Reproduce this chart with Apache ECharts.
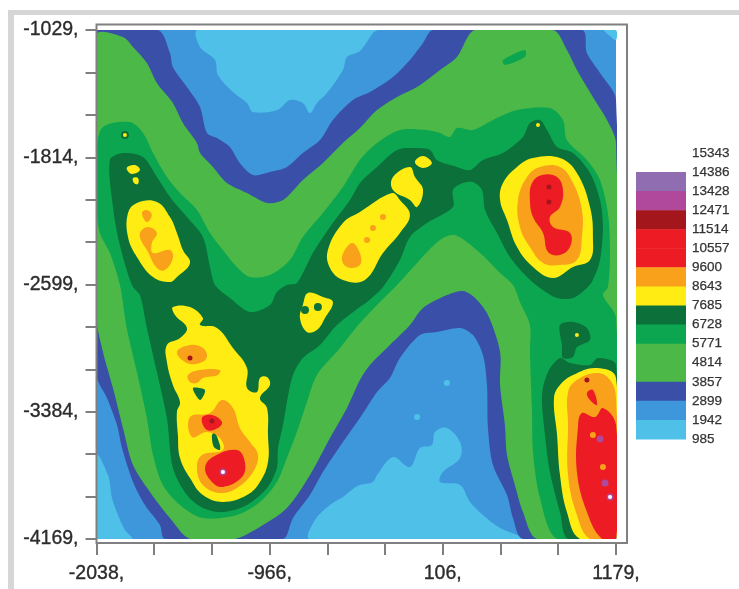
<!DOCTYPE html>
<html>
<head>
<meta charset="utf-8">
<style>
html,body{margin:0;padding:0;background:#fff}
#chart{width:739px;height:589px;filter:blur(0.7px)}
</style>
<script src="https://cdn.jsdelivr.net/npm/echarts@6/dist/echarts.min.js"></script>
</head>
<body>
<div id="chart"></div>
<script>
const xTickLabels = [-2038, -966, 106, 1179];
const yTickLabels = [-1029, -1814, -2599, -3384, -4169];
const xTicks = [-2038,-1681,-1323,-966,-608,-251,106,464,821,1179];
const yTicks = [-4169,-3907,-3646,-3384,-3122,-2861,-2599,-2337,-2076,-1814,-1552,-1291,-1029];
const legendLevels = [15343,14386,13428,12471,11514,10557,9600,8643,7685,6728,5771,4814,3857,2899,1942,985];
const bandColors = {985:'#4fc1e9',1942:'#3f97db',2899:'#3a4fa8',3857:'#4cb848',4814:'#4cb848',5771:'#0ca650',6728:'#0b7039',7685:'#ffec12',8643:'#f9a11b',9600:'#ed1c24',10557:'#ed1c24',11514:'#a3161c',12471:'#b0499c',13428:'#8f6db0',14386:'#ffffff'};

// contour rings, in survey coordinates [x, y]
const extent1942 = [[[-2038,-1029],[1179,-1029],[1179,-4169],[-2038,-4169]]];
const band985 = [
 [[-1410,-1029],[-1397,-1134],[-1304,-1214],[-1286,-1307],[-1193,-1412],[-1106,-1479],[-1069,-1535],[-920,-1523],[-840,-1461],[-760,-1479],[-716,-1541],[-673,-1479],[-611,-1418],[-512,-1276],[-487,-1196],[-407,-1159],[-326,-1048],[-301,-1029]],
 [[-716,-4169],[-685,-4052],[-592,-3959],[-512,-3910],[-450,-3861],[-407,-3836],[-326,-3817],[-301,-3774],[-202,-3663],[-97,-3725],[-35,-3608],[39,-3589],[58,-3509],[132,-3484],[213,-3571],[213,-3669],[107,-3756],[89,-3817],[213,-3836],[275,-3941],[355,-4021],[461,-4101],[566,-4144],[603,-4169]],
 [[-2038,-3651],[-1967,-3774],[-1942,-3916],[-1905,-4021],[-1862,-4114],[-1819,-4169],[-2038,-4169]],
 [[1105,-1029],[1179,-1029],[1179,-1091],[1142,-1066]]
];
const band2899 = [
 [[-2038,-1029],[-1657,-1029],[-1583,-1171],[-1565,-1257],[-1478,-1381],[-1397,-1504],[-1354,-1664],[-1292,-1695],[-1212,-1751],[-1150,-1850],[-1069,-1924],[-964,-1905],[-859,-1874],[-760,-1788],[-654,-1708],[-574,-1584],[-450,-1461],[-345,-1412],[-202,-1319],[-97,-1214],[-16,-1109],[46,-1029],[968,-1029],[999,-1171],[1080,-1294],[1179,-1461],[1179,-4169],[603,-4169],[541,-4040],[504,-3898],[417,-3713],[386,-3484],[380,-3219],[355,-3034],[293,-2911],[213,-2867],[70,-2892],[-35,-2911],[-159,-3053],[-221,-3176],[-301,-3262],[-407,-3423],[-512,-3571],[-636,-3756],[-716,-3898],[-821,-4040],[-859,-4144],[-883,-4169],[-1614,-4169],[-1645,-4083],[-1738,-3959],[-1812,-3817],[-1880,-3608],[-1911,-3466],[-1973,-3299],[-2038,-3157]]
];
const band3857 = [
 [[-2038,-1060],[-1874,-1072],[-1812,-1134],[-1726,-1233],[-1664,-1356],[-1565,-1479],[-1503,-1603],[-1416,-1726],[-1397,-1788],[-1317,-1874],[-1230,-1973],[-1106,-2035],[-982,-2096],[-883,-2078],[-760,-1954],[-636,-1850],[-512,-1726],[-407,-1634],[-301,-1523],[-177,-1442],[-53,-1381],[89,-1276],[194,-1196],[306,-1029],[789,-1029],[875,-1152],[937,-1276],[1036,-1442],[1123,-1584],[1179,-1726],[1179,-4169],[690,-4169],[603,-4003],[553,-3836],[504,-3651],[491,-3466],[461,-3219],[461,-3015],[386,-2787],[306,-2682],[231,-2639],[132,-2664],[-16,-2744],[-97,-2849],[-221,-2972],[-345,-3096],[-407,-3188],[-487,-3361],[-592,-3546],[-716,-3774],[-859,-3978],[-1007,-4083],[-1181,-4169],[-1459,-4169],[-1583,-4040],[-1707,-3879],[-1812,-3713],[-1874,-3484],[-1936,-3238],[-1998,-3015],[-2038,-2806]]
];
const band5771 = [
 [[-2038,-1769],[-1998,-1627],[-1831,-1597],[-1750,-1664],[-1688,-1788],[-1602,-1936],[-1521,-2035],[-1416,-2139],[-1335,-2281],[-1255,-2386],[-1168,-2491],[-1088,-2553],[-964,-2540],[-840,-2448],[-760,-2306],[-636,-2158],[-512,-1998],[-407,-1831],[-301,-1726],[-159,-1646],[8,-1646],[89,-1664],[151,-1689],[194,-1634],[293,-1646],[417,-1584],[566,-1523],[770,-1510],[851,-1584],[875,-1708],[999,-1831],[1080,-1954],[1129,-2158],[1142,-2405],[1129,-2614],[1098,-2664],[1179,-2806],[1179,-4169],[814,-4169],[708,-3916],[665,-3632],[659,-3386],[646,-3015],[646,-2849],[584,-2707],[541,-2602],[461,-2528],[337,-2405],[182,-2294],[89,-2325],[-53,-2466],[-177,-2602],[-283,-2707],[-407,-2837],[-530,-2991],[-673,-3157],[-735,-3324],[-797,-3509],[-859,-3669],[-921,-3817],[-1026,-3941],[-1168,-4021],[-1379,-4040],[-1521,-3959],[-1627,-3836],[-1688,-3651],[-1726,-3423],[-1788,-3139],[-1851,-2867],[-1893,-2602],[-1955,-2405],[-2017,-2281],[-2038,-2121]],
 [[479,-1214],[615,-1152],[615,-1196],[491,-1245]]
];
const band6728 = [
 [[-1955,-1831],[-1874,-1788],[-1750,-1813],[-1664,-1936],[-1583,-2059],[-1478,-2183],[-1379,-2306],[-1335,-2491],[-1304,-2602],[-1212,-2682],[-1088,-2769],[-964,-2726],[-921,-2645],[-859,-2602],[-797,-2590],[-698,-2405],[-592,-2244],[-468,-2078],[-407,-1973],[-301,-1874],[-177,-1769],[-78,-1757],[27,-1769],[70,-1831],[194,-1874],[275,-1893],[355,-1831],[479,-1788],[603,-1689],[646,-1603],[708,-1584],[752,-1646],[814,-1751],[913,-1788],[1018,-1911],[1080,-2078],[1098,-2244],[1080,-2448],[1036,-2571],[999,-2621],[913,-2682],[814,-2682],[708,-2621],[628,-2553],[522,-2429],[442,-2281],[368,-2139],[349,-2016],[293,-1967],[231,-1973],[169,-2016],[169,-2121],[8,-2220],[-97,-2306],[-159,-2448],[-264,-2614],[-363,-2707],[-407,-2738],[-549,-2849],[-654,-2972],[-760,-3053],[-821,-3157],[-859,-3324],[-883,-3466],[-914,-3608],[-921,-3731],[-982,-3855],[-1106,-3959],[-1255,-4003],[-1379,-3978],[-1478,-3898],[-1565,-3731],[-1602,-3423],[-1664,-3139],[-1726,-2867],[-1769,-2664],[-1812,-2614],[-1851,-2510],[-1905,-2306],[-1936,-2121]],
 [[882,-4169],[832,-4003],[770,-3756],[739,-3527],[721,-3281],[758,-3139],[832,-3053],[894,-3083],[1018,-3096],[1067,-3053],[1179,-3096],[1179,-4169]],
 [[832,-2849],[913,-2830],[999,-2867],[1018,-2941],[937,-2985],[913,-3046],[851,-3053],[844,-2972]]
];
const band7685 = [
 [[-1843,-2158],[-1788,-2096],[-1664,-2090],[-1583,-2183],[-1540,-2281],[-1503,-2386],[-1459,-2466],[-1540,-2553],[-1583,-2584],[-1688,-2553],[-1788,-2429],[-1843,-2306]],
 [[-1851,-1880],[-1800,-1862],[-1769,-1893],[-1819,-1917]],
 [[-1812,-1942],[-1781,-1942],[-1781,-1979],[-1806,-1973]],
 [[-605,-2386],[-512,-2220],[-407,-2152],[-208,-2035],[-159,-2078],[-97,-2170],[-159,-2281],[-264,-2405],[-376,-2571],[-512,-2571],[-592,-2497]],
 [[-202,-1936],[-97,-1874],[-66,-1936],[-16,-2016],[-53,-2121],[-97,-2078],[-202,-2016]],
 [[-66,-1843],[-16,-1806],[39,-1850],[-16,-1880]],
 [[479,-1973],[566,-1874],[665,-1819],[832,-1819],[937,-1911],[1018,-2121],[1036,-2306],[1018,-2448],[913,-2491],[789,-2559],[665,-2491],[566,-2368],[504,-2201],[461,-2078]],
 [[-1565,-2738],[-1459,-2738],[-1379,-2806],[-1397,-2849],[-1292,-2867],[-1193,-2991],[-1106,-3114],[-1106,-3238],[-1044,-3262],[-1026,-3176],[-982,-3170],[-964,-3219],[-1026,-3299],[-982,-3361],[-976,-3527],[-976,-3694],[-1026,-3817],[-1106,-3898],[-1255,-3941],[-1379,-3898],[-1459,-3793],[-1521,-3669],[-1534,-3527],[-1540,-3386],[-1521,-3324],[-1565,-3219],[-1602,-3077],[-1602,-2972],[-1521,-2929],[-1478,-2867],[-1552,-2787]],
 [[-760,-2726],[-729,-2652],[-636,-2676],[-574,-2707],[-623,-2806],[-673,-2880],[-735,-2892],[-778,-2806]],
 [[956,-4169],[875,-4003],[832,-3774],[814,-3527],[795,-3299],[832,-3219],[913,-3157],[1061,-3114],[1179,-3176],[1179,-4169]]
];
const pockets6728 = [
 [[-1441,-3238],[-1366,-3250],[-1397,-3312]],
 [[-1323,-3527],[-1304,-3515],[-1274,-3589],[-1274,-3620],[-1311,-3602]]
];
const band8643 = [
 [[-1757,-2158],[-1726,-2139],[-1695,-2170],[-1726,-2214]],
 [[-1769,-2281],[-1719,-2244],[-1664,-2281],[-1695,-2343],[-1688,-2405],[-1583,-2386],[-1565,-2436],[-1614,-2510],[-1664,-2497],[-1726,-2386],[-1757,-2337]],
 [[-518,-2429],[-456,-2343],[-407,-2405],[-407,-2479],[-487,-2491]],
 [[572,-2078],[628,-1936],[708,-1874],[832,-1874],[913,-1973],[968,-2139],[968,-2306],[937,-2448],[832,-2479],[727,-2466],[646,-2368],[584,-2244]],
 [[-1540,-3015],[-1459,-2972],[-1379,-2991],[-1354,-3046],[-1397,-3083],[-1478,-3083]],
 [[-1472,-3157],[-1397,-3127],[-1274,-3127],[-1286,-3157],[-1379,-3176],[-1416,-3207],[-1459,-3201]],
 [[-1459,-3417],[-1335,-3392],[-1261,-3312],[-1193,-3361],[-1150,-3484],[-1088,-3571],[-1038,-3651],[-1069,-3756],[-1168,-3855],[-1274,-3885],[-1379,-3836],[-1416,-3731],[-1385,-3651],[-1255,-3620],[-1274,-3546],[-1354,-3509],[-1447,-3540]],
 [[1018,-4169],[937,-4021],[882,-3774],[882,-3466],[882,-3262],[937,-3188],[1061,-3145],[1142,-3188],[1179,-3299],[1179,-4169]]
];
const band9600 = [
 [[659,-1973],[721,-1924],[814,-1936],[851,-2016],[832,-2121],[770,-2183],[789,-2244],[894,-2281],[894,-2368],[832,-2417],[758,-2399],[727,-2281],[665,-2183],[646,-2078]],
 [[-1385,-3423],[-1323,-3404],[-1261,-3447],[-1286,-3484],[-1354,-3497]],
 [[-1366,-3731],[-1317,-3663],[-1168,-3620],[-1119,-3694],[-1137,-3787],[-1255,-3848],[-1323,-3817]],
 [[1092,-4169],[999,-4003],[937,-3756],[943,-3484],[968,-3392],[1049,-3417],[1098,-3361],[1179,-3466],[1179,-4169]],
 [[999,-3268],[1036,-3250],[1061,-3342],[1018,-3312]]
];
// isolated single-sample spots [x, y]
const spots985 = [[132,-3207],[-53,-3416]];
const spots6728 = [[-1862,-1677],[696,-1615],[-747,-2756],[-667,-2738]];
const spots7685 = [[-1862,-1677],[696,-1615],[937,-2911]];
const spots8643 = [[-264,-2183],[-326,-2251],[-363,-2325],[1036,-3527],[1098,-3725]];
const spots11514 = [[-1323,-3441],[764,-1998],[764,-2090],[-1459,-3052],[999,-3188]];
const spots12471 = [[-1255,-3756],[1080,-3552],[1111,-3824],[1142,-3910]];
const spots14386 = [[-1255,-3756],[1142,-3910]];

const layers = [];
[[1942,extent1942,0],[985,band985,0.35],[2899,band2899,0.3],[3857,band3857,0.3],[5771,band5771,0.3],[6728,band6728,0.3],[7685,band7685,0.4],[6728,pockets6728,0.3],[8643,band8643,0.4],[9600,band9600,0.4]]
  .forEach(([level, rings, smooth]) => rings.forEach(ring => layers.push({level, ring, smooth})));

const spotSeries = [[985,spots985,6],[6728,spots6728,8],[7685,spots7685,4],[8643,spots8643,6],[11514,spots11514,5],[12471,spots12471,7],[14386,spots14386,4]]
  .map(([level, pts, size]) => ({
    type:'scatter', data:pts, symbol:'circle', symbolSize:size, silent:true, z:5, clip:true,
    itemStyle:{color:bandColors[level], opacity:1}, animation:false
  }));

const labelFont = {fontFamily:'"Liberation Sans", Arial, sans-serif', fontSize:19.5, color:'#2b2b2b', textBorderColor:'#2b2b2b', textBorderWidth:0.35};
const BAR_LEFT=636, BAR_TOP=172, BAR_W=50, STEP=19.07;
const graphics = [
  {type:'rect', shape:{x:8,y:10,width:731,height:5}, style:{fill:'#d6d6d6'}, silent:true},
  {type:'rect', shape:{x:8,y:10,width:6,height:579}, style:{fill:'#d6d6d6'}, silent:true},
  {type:'rect', shape:{x:96.5,y:24.5,width:530.5,height:518.5}, style:{fill:null,stroke:'#808080',lineWidth:2}, silent:true, z:10}
];
legendLevels.forEach((lv,i)=>{
  graphics.push({type:'text', x:692, y:BAR_TOP-19+i*STEP, style:{text:String(lv), font:'13.5px "Liberation Sans", Arial, sans-serif', fill:'#333', stroke:'#333', lineWidth:0.25, textVerticalAlign:'middle'}, silent:true});
  if(i>=1 && i<legendLevels.length-1){
    graphics.push({type:'rect', shape:{x:BAR_LEFT,y:BAR_TOP+(i-1)*STEP,width:BAR_W,height:STEP+0.5},
      style:{fill:bandColors[legendLevels[i+1]]}, silent:true});
  }
});

const chart = echarts.init(document.getElementById('chart'),null,{renderer:'canvas'});
chart.setOption({
  animation:false,
  backgroundColor:'#fff',
  graphic:graphics,
  grid:{left:96.5,top:30,right:123,bottom:50,containLabel:false},
  xAxis:{type:'value',min:-2038,max:1179,splitLine:{show:false},offset:4,
    axisLine:{show:false,onZero:false},
    axisTick:{show:true,length:12,customValues:xTicks,lineStyle:{color:'#555',width:1.5}},
    axisLabel:{show:true,customValues:xTickLabels,margin:21,formatter:v=>Math.round(v)+',',...labelFont}},
  yAxis:{type:'value',min:-4169,max:-1029,splitLine:{show:false},
    axisLine:{show:false,onZero:false},
    axisTick:{show:true,length:11,customValues:yTicks,lineStyle:{color:'#555',width:1.5}},
    axisLabel:{show:true,customValues:yTickLabels,margin:18,formatter:v=>Math.round(v)+',',...labelFont}},
  series:[{
    type:'custom', clip:true, silent:true, z:2,
    data:layers.map(l=>l.ring[0]),
    encode:{x:0,y:1},
    renderItem:(params,api)=>{
      const l=layers[params.dataIndex];
      return {type:'polygon',shape:{points:l.ring.map(p=>api.coord(p)),smooth:l.smooth},style:{fill:bandColors[l.level]}};
    }
  }].concat(spotSeries)
});
</script>
</body>
</html>
